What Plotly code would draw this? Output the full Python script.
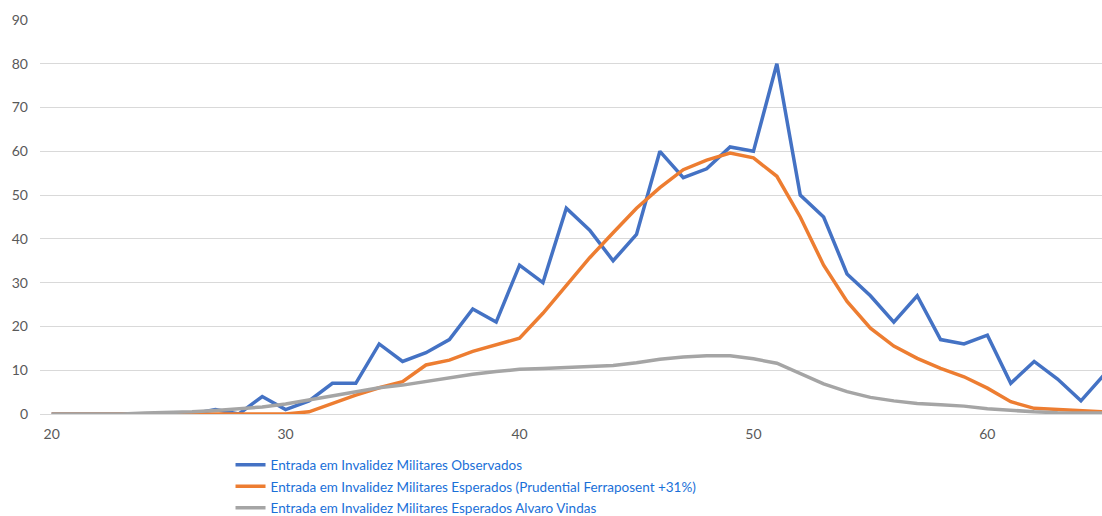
import plotly.graph_objects as go

ages = list(range(20, 66))
observados = [0, 0, 0, 0, 0, 0, 0, 1, 0, 4, 1, 3, 7, 7, 16, 12, 14, 17, 24, 21,
              34, 30, 47, 42, 35, 41, 60, 54, 56, 61, 60, 80, 50, 45, 32, 27, 21, 27, 17, 16,
              18, 7, 12, 8, 3, 9]
prudential = [0, 0, 0, 0, 0, 0, 0, 0, 0, 0, 0, 0.5, 2.5, 4.3, 6, 7.4, 11.2, 12.3, 14.3, 15.8,
              17.3, 23, 29.5, 35.7, 41.4, 47, 51.7, 55.8, 58, 59.6, 58.5, 54.3, 45, 34, 25.7, 19.6, 15.5, 12.7, 10.4, 8.5,
              5.9, 2.8, 1.3, 1.0, 0.9, 0.5]
alvaro = [0, 0, 0, 0, 0.2, 0.3, 0.5, 0.8, 1.2, 1.6, 2.3, 3.2, 4.3, 5.1, 6, 6.6, 7.4, 8.4, 9.1, 9.7,
          10.2, 10.4, 10.6, 10.8, 11.1, 11.7, 12.5, 13, 13.3, 13.3, 12.6, 11.6, 9.3, 6.9, 5.1, 3.8, 3.0, 2.4, 2.1, 1.8,
          1.2, 0.8, 0.5, 0.3, 0.2, 0.2]
names = ["Entrada em Invalidez Militares Observados",
         "Entrada em Invalidez Militares Esperados (Prudential Ferraposent +31%)",
         "Entrada em Invalidez Militares Esperados Alvaro Vindas"]
colors = ["#4472C4", "#ED7D31", "#A5A5A5"]
x_ticks = [20, 30, 40, 50, 60]
y_ticks = [0, 10, 20, 30, 40, 50, 60, 70, 80, 90]

fig = go.Figure()
for i, (ys, nm, c) in enumerate(zip([observados, prudential, alvaro], names, colors)):
    fig.add_trace(go.Scatter(x=ages, y=ys, name=nm, mode="lines", legendgroup=f"g{i}",
                             line=dict(color=c, width=3.5)))

fig.update_layout(
    width=1102, height=528,
    margin=dict(l=40, r=0, t=20, b=114, autoexpand=False),
    plot_bgcolor="white", paper_bgcolor="white",
    font=dict(family="Lato, Open Sans, sans-serif", color="#595959", size=14),
    showlegend=True,
    legend=dict(x=0.1794, xanchor="left", y=-0.090, yanchor="top",
                font=dict(size=13.5, color="#1a70d8", family="Lato, sans-serif"),
                bgcolor="rgba(0,0,0,0)", tracegroupgap=1, itemwidth=30),
    xaxis=dict(range=[19.5, 64.9], tickvals=x_ticks, showgrid=False, zeroline=False,
               showline=False, ticks="", automargin=False, ticklabelstandoff=10,
               tickfont=dict(size=14, color="#595959")),
    yaxis=dict(range=[0, 90], tickvals=y_ticks, gridcolor="#D9D9D9", gridwidth=1,
               zeroline=True, zerolinecolor="#D9D9D9", zerolinewidth=1, automargin=False,
               showline=False, ticks="", ticklabelstandoff=11,
               tickfont=dict(size=14, color="#595959")),
)
fig.write_html("out.html",
               config={"displayModeBar": False},
               post_script="document.body.style.margin='0';"
                           "document.documentElement.style.overflow='hidden';"
                           "document.body.style.overflow='hidden';")
